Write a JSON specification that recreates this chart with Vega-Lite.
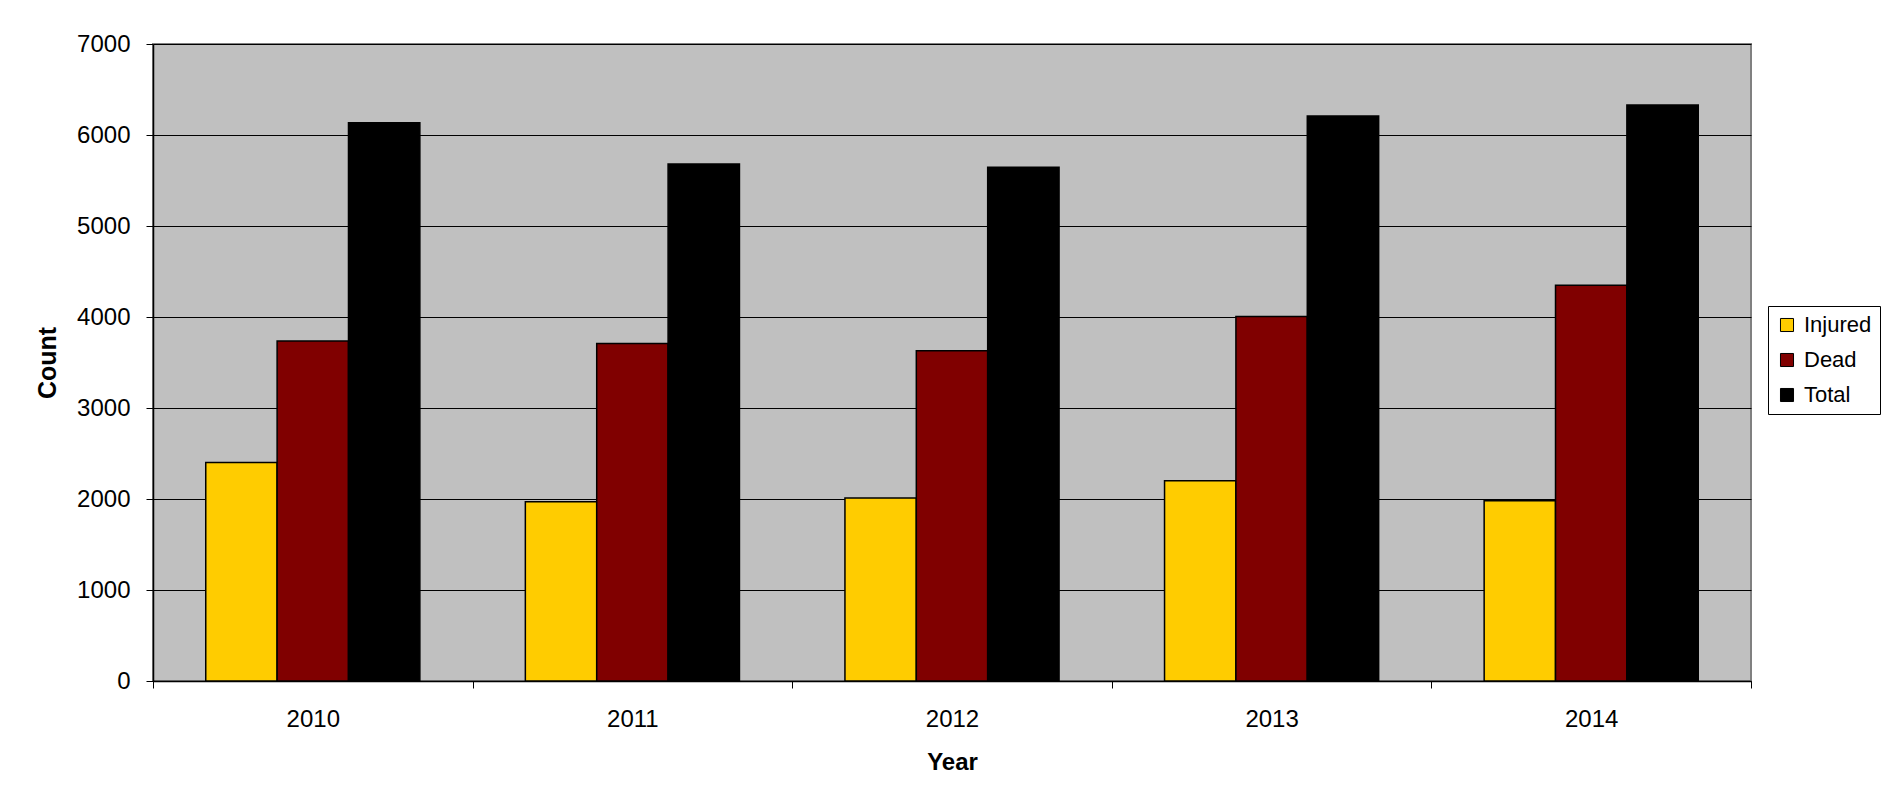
{
  "$schema": "https://vega.github.io/schema/vega-lite/v6.json",
  "width": 1598,
  "height": 637,
  "autosize": {"type": "none"},
  "padding": {"left": 153, "top": 44, "right": 144, "bottom": 128},
  "background": "white",
  "data": {
    "values": [
      {"Year": "2010", "Series": "Injured", "Count": 2400},
      {"Year": "2010", "Series": "Dead", "Count": 3735},
      {"Year": "2010", "Series": "Total", "Count": 6135},
      {"Year": "2011", "Series": "Injured", "Count": 1970},
      {"Year": "2011", "Series": "Dead", "Count": 3710},
      {"Year": "2011", "Series": "Total", "Count": 5680},
      {"Year": "2012", "Series": "Injured", "Count": 2010},
      {"Year": "2012", "Series": "Dead", "Count": 3630},
      {"Year": "2012", "Series": "Total", "Count": 5645},
      {"Year": "2013", "Series": "Injured", "Count": 2200},
      {"Year": "2013", "Series": "Dead", "Count": 4005},
      {"Year": "2013", "Series": "Total", "Count": 6210},
      {"Year": "2014", "Series": "Injured", "Count": 1980},
      {"Year": "2014", "Series": "Dead", "Count": 4350},
      {"Year": "2014", "Series": "Total", "Count": 6330}
    ]
  },
  "mark": {"type": "bar", "stroke": "black", "strokeWidth": 1.5},
  "encoding": {
    "x": {
      "field": "Year",
      "type": "nominal",
      "scale": {"paddingInner": 0, "paddingOuter": 0},
      "axis": {
        "tickBand": "extent",
        "labelAngle": 0,
        "domainColor": "black",
        "domainWidth": 1.5,
        "tickColor": "black",
        "tickSize": 7,
        "labelFontSize": 24,
        "labelPadding": 19,
        "labelColor": "black",
        "title": "Year",
        "titleFontSize": 24,
        "titleFontWeight": "bold",
        "titleColor": "black",
        "titlePadding": 19,
        "grid": false
      }
    },
    "xOffset": {
      "field": "Series",
      "type": "nominal",
      "sort": ["Injured", "Dead", "Total"],
      "scale": {"paddingInner": 0, "paddingOuter": 0.739}
    },
    "y": {
      "field": "Count",
      "type": "quantitative",
      "scale": {"domain": [0, 7000], "nice": false},
      "axis": {
        "values": [0, 1000, 2000, 3000, 4000, 5000, 6000, 7000],
        "format": "d",
        "grid": true,
        "gridColor": "black",
        "gridWidth": 1,
        "gridOpacity": 1,
        "domainColor": "black",
        "domainWidth": 1.5,
        "tickColor": "black",
        "tickSize": 7,
        "labelFontSize": 24,
        "labelPadding": 16,
        "labelColor": "black",
        "title": "Count",
        "titleFontSize": 25,
        "titleFontWeight": "bold",
        "titleColor": "black",
        "titlePadding": 16
      }
    },
    "color": {
      "field": "Series",
      "type": "nominal",
      "sort": ["Injured", "Dead", "Total"],
      "scale": {"domain": ["Injured", "Dead", "Total"], "range": ["#FFCC00", "#800000", "#000000"]},
      "legend": {
        "orient": "none",
        "legendX": 1615,
        "legendY": 262,
        "title": null,
        "strokeColor": "black",
        "fillColor": "white",
        "padding": 8,
        "symbolType": "square",
        "symbolSize": 170,
        "symbolStrokeColor": "black",
        "symbolStrokeWidth": 1,
        "symbolOpacity": 1,
        "labelFontSize": 22,
        "labelColor": "black",
        "labelOffset": 6,
        "rowPadding": 13
      }
    }
  },
  "config": {
    "font": "Liberation Sans",
    "view": {"fill": "#C0C0C0", "stroke": "#808080", "strokeWidth": 2}
  }
}
